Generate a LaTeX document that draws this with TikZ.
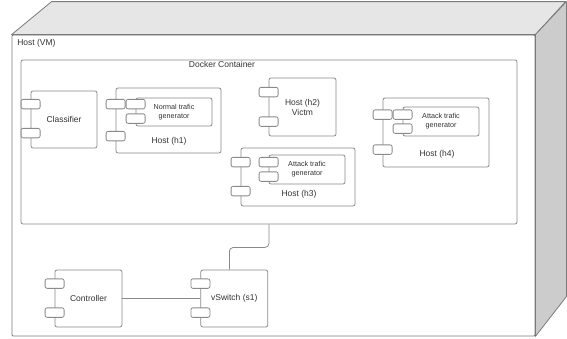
\documentclass[tikz,border=0pt]{standalone}
\usepackage{fontspec}
\setmainfont{Liberation Sans}
\usetikzlibrary{positioning,calc}
\definecolor{edge}{HTML}{8A8A8A}
\definecolor{frame}{HTML}{7A7A7A}
\definecolor{ink}{HTML}{333333}
\definecolor{topface}{HTML}{E6E6E6}
\definecolor{sideface}{HTML}{CCCCCC}

\begin{document}
\begin{tikzpicture}[
    x=1pt, y=-1pt,
    font=\fontsize{8.5}{10}\selectfont,
    text=ink,
    line width=0.8pt,
    comp/.style={draw=edge, rounded corners=2pt, fill=white, inner sep=0pt, align=center},
    port/.style={draw=edge, rounded corners=2pt, fill=white,
        minimum width=19pt, minimum height=9.5pt, inner sep=0pt},
    small/.style={font=\fontsize{7.2}{9}\selectfont, align=center},
    link/.style={draw=edge, rounded corners=4pt},
]
\useasboundingbox (0,0) rectangle (567,338);

% ---- Host (VM) box -------------------------------------------------
\node[draw=frame, fill=white, rounded corners=1pt, minimum width=523pt, minimum height=301pt,
    inner sep=0pt] (vm) at (273.5,185.5) {};
\filldraw[draw=frame, fill=topface, line join=round]
    (vm.north west) -- ++(40,-33) -- ++(514,0) -- (vm.north east) -- cycle;
\filldraw[draw=frame, fill=sideface, line join=round]
    (vm.north east) -- ++(31,-33) -- ++(0,295) -- (vm.south east) -- cycle;
\node[anchor=west] (vmlbl) at ($(vm.north west)+(2,9)$) {Host (VM)};

% ---- Docker container ----------------------------------------------
\node[comp, minimum width=496pt, minimum height=164pt] (dock) at (269,142) {};
\node (docklbl) at (222,64.5) {Docker Container};

% ---- Hosts in the container ----------------------------------------
\node[comp, minimum width=66pt, minimum height=57pt] (cls) at (64,119.5) {Classifier};
\node[port] (clsA) at ($(cls.north west)+(0,13.5)$) {};
\node[port] (clsB) at ($(cls.north west)+(0,42.5)$) {};

\node[comp, minimum width=105pt, minimum height=65pt] (h1) at (168.5,120.5) {};
\node[port] (h1A) at ($(h1.north west)+(0,16.5)$) {};
\node[port] (h1B) at ($(h1.north west)+(0,48.5)$) {};
\node[comp, small, minimum width=76pt, minimum height=28pt] (gen1) at (174,112) {Normal trafic\\generator};
\node[port] (gen1A) at ($(gen1.north west)+(0,6.5)$) {};
\node[port] (gen1B) at ($(gen1.north west)+(0,21)$) {};
\node (h1lbl) at (169,141) {Host (h1)};

\node[comp, minimum width=67pt, minimum height=58pt] (h2) at (302.5,107) {Host (h2)\\Victm};
\node[port] (h2A) at ($(h2.north west)+(0,14.5)$) {};
\node[port] (h2B) at ($(h2.north west)+(0,44)$) {};

\node[comp, minimum width=114pt, minimum height=58pt] (h3) at (298,177) {};
\node[port] (h3A) at ($(h3.north west)+(0,14.5)$) {};
\node[port] (h3B) at ($(h3.north west)+(0,43.5)$) {};
\node[comp, small, minimum width=76pt, minimum height=29pt] (gen3) at (307,169.5) {Attack trafic\\generator};
\node[port] (gen3A) at ($(gen3.north west)+(0,7.5)$) {};
\node[port] (gen3B) at ($(gen3.north west)+(0,22)$) {};
\node (h3lbl) at (299,194) {Host (h3)};

\node[comp, minimum width=106pt, minimum height=69pt] (h4) at (436,132.5) {};
\node[port] (h4A) at ($(h4.north west)+(0,17)$) {};
\node[port] (h4B) at ($(h4.north west)+(0,52)$) {};
\node[comp, small, minimum width=76pt, minimum height=29pt] (gen4) at (441,121.5) {Attack trafic\\generator};
\node[port] (gen4A) at ($(gen4.north west)+(0,8)$) {};
\node[port] (gen4B) at ($(gen4.north west)+(0,22)$) {};
\node (h4lbl) at (437,154) {Host (h4)};

% ---- Controller and switch -----------------------------------------
\node[comp, minimum width=67pt, minimum height=57pt] (ctrl) at (88.5,298.5) {Controller};
\node[port] (ctrlA) at ($(ctrl.north west)+(0,14)$) {};
\node[port] (ctrlB) at ($(ctrl.north west)+(0,43)$) {};

\node[comp, minimum width=67pt, minimum height=57pt, right=78pt of ctrl] (sw) {vSwitch (s1)};
\node[port] (swA) at ($(sw.north west)+(0,14)$) {};
\node[port] (swB) at ($(sw.north west)+(0,43)$) {};

% ---- Links ---------------------------------------------------------
\coordinate (swin) at ($(sw.north west)+(29,0)$);
\draw[link] (ctrl.east) -- (sw.west);
\draw[link] (dock.south) -- ++(0,23) -| (swin);

\end{tikzpicture}
\end{document}
